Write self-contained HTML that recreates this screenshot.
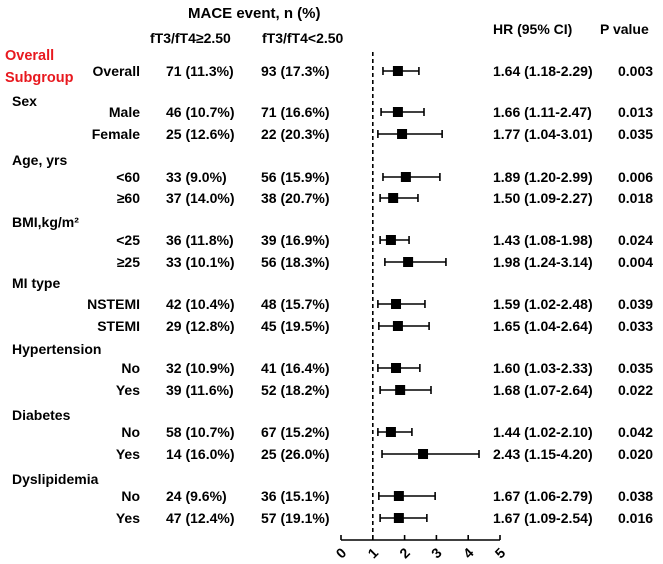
<!DOCTYPE html>
<html><head><meta charset="utf-8"><style>
html,body{margin:0;padding:0;background:#fff;}
svg{display:block;font-family:"Liberation Sans",Arial,sans-serif;font-weight:bold;}
</style></head><body>
<svg id="chart" width="663" height="564" viewBox="0 0 663 564" xmlns="http://www.w3.org/2000/svg">
<text x="188" y="18" font-size="15">MACE event, n (%)</text>
<text x="150" y="43" font-size="14">fT3/fT4≥2.50</text>
<text x="262" y="43" font-size="14">fT3/fT4&lt;2.50</text>
<text x="493" y="34" font-size="14">HR (95% CI)</text>
<text x="600" y="34" font-size="14">P value</text>
<text x="5" y="60" font-size="14.5" fill="#e8191f">Overall</text>
<text x="5" y="82" font-size="14.5" fill="#e8191f">Subgroup</text>
<g id="rows"></g>
<g id="marks"></g>
<g id="axis"></g>
</svg>
<script>
const groups = ["Sex","Age, yrs","BMI,kg/m²","MI type","Hypertension","Diabetes","Dyslipidemia"];
const groupY = [101,160,222,283,349,415,479];
const labels = ["Overall","Male","Female","<60","≥60","<25","≥25","NSTEMI","STEMI","No","Yes","No","Yes","No","Yes"];
const rowY = [71,112,134,177,198,240,262,304,326,368,390,432,454,496,518];
const colHigh = ["71 (11.3%)","46 (10.7%)","25 (12.6%)","33 (9.0%)","37 (14.0%)","36 (11.8%)","33 (10.1%)","42 (10.4%)","29 (12.8%)","32 (10.9%)","39 (11.6%)","58 (10.7%)","14 (16.0%)","24 (9.6%)","47 (12.4%)"];
const colLow = ["93 (17.3%)","71 (16.6%)","22 (20.3%)","56 (15.9%)","38 (20.7%)","39 (16.9%)","56 (18.3%)","48 (15.7%)","45 (19.5%)","41 (16.4%)","52 (18.2%)","67 (15.2%)","25 (26.0%)","36 (15.1%)","57 (19.1%)"];
const hrText = ["1.64 (1.18-2.29)","1.66 (1.11-2.47)","1.77 (1.04-3.01)","1.89 (1.20-2.99)","1.50 (1.09-2.27)","1.43 (1.08-1.98)","1.98 (1.24-3.14)","1.59 (1.02-2.48)","1.65 (1.04-2.64)","1.60 (1.03-2.33)","1.68 (1.07-2.64)","1.44 (1.02-2.10)","2.43 (1.15-4.20)","1.67 (1.06-2.79)","1.67 (1.09-2.54)"];
const pText = ["0.003","0.013","0.035","0.006","0.018","0.024","0.004","0.039","0.033","0.035","0.022","0.042","0.020","0.038","0.016"];
const est = [1.79,1.79,1.92,2.04,1.64,1.57,2.11,1.73,1.79,1.73,1.86,1.57,2.58,1.82,1.82];
const lo = [1.32,1.26,1.16,1.32,1.23,1.23,1.38,1.16,1.19,1.16,1.23,1.16,1.29,1.19,1.23];
const hi = [2.45,2.61,3.18,3.11,2.42,2.14,3.30,2.64,2.77,2.48,2.83,2.23,4.34,2.96,2.70];
const ticks = [0,1,2,3,4,5];

const NS="http://www.w3.org/2000/svg";
const xs = v => 341 + v*31.8;
function mk(tag, attrs, parent, txt){const e=document.createElementNS(NS,tag);for(const k in attrs)e.setAttribute(k,attrs[k]);if(txt!==undefined)e.textContent=txt;parent.appendChild(e);return e;}
const rows=document.getElementById('rows'), marks=document.getElementById('marks'), axis=document.getElementById('axis');
groups.forEach((g,i)=>{
  const t=mk('text',{x:12,y:groupY[i]+5,'font-size':14},rows,g);
  
  
});
labels.forEach((l,i)=>{
  const y=rowY[i]+5;
  const a=mk('text',{x:140,y:y,'font-size':14,'text-anchor':'end'},rows,l);
  
  
  const b=mk('text',{x:166,y:y,'font-size':14},rows,colHigh[i]);
  
  
  const c=mk('text',{x:261,y:y,'font-size':14},rows,colLow[i]);
  
  
  const d=mk('text',{x:493,y:y,'font-size':14},rows,hrText[i]);
  
  
  const e=mk('text',{x:618,y:y,'font-size':14},rows,pText[i]);
  
  
  const ry=rowY[i];
  const ln=mk('line',{x1:xs(lo[i]),x2:xs(hi[i]),y1:ry,y2:ry,stroke:'#000','stroke-width':1.6},marks);
  
  
  [lo[i],hi[i]].forEach(v=>{const c2=mk('line',{x1:xs(v),x2:xs(v),y1:ry-4,y2:ry+4,stroke:'#000','stroke-width':1.6},marks);
    
    });
  const sq=mk('rect',{x:xs(est[i])-5,y:ry-5,width:10,height:10,fill:'#000'},marks);
  
  
});
const ref=mk('line',{x1:xs(1),x2:xs(1),y1:52,y2:542,stroke:'#000','stroke-width':1.6,'stroke-dasharray':'4,3'},axis);


const ax=mk('line',{x1:xs(0),x2:xs(5),y1:540,y2:540,stroke:'#000','stroke-width':1.6},axis);


ticks.forEach(v=>{
  const t=mk('line',{x1:xs(v),x2:xs(v),y1:535,y2:540,stroke:'#000','stroke-width':1.6},axis);
  
  
  const l=mk('text',{x:xs(v),y:558,'font-size':14,'text-anchor':'middle',transform:`rotate(-45 ${xs(v)} 553)`},axis,String(v));
  
  
});
</script>
</body></html>
